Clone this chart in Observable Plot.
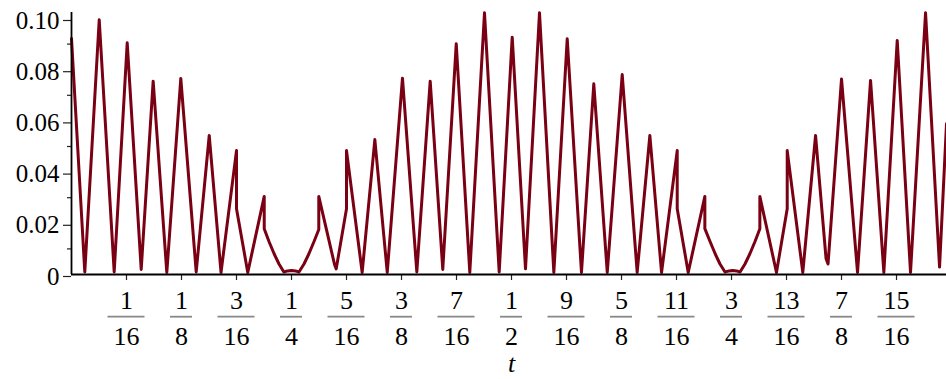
<!DOCTYPE html>
<html>
<head>
<meta charset="utf-8">
<script src="https://cdn.jsdelivr.net/npm/d3@7"></script>
<script src="https://cdn.jsdelivr.net/npm/@observablehq/plot@0.6"></script>
<style>
  html, body { margin: 0; padding: 0; background: #fff; }
  #chart { width: 946px; height: 379px; }
</style>
</head>
<body>
<div id="chart"></div>
<script>
// Curve vertices
const T = [0, 0.0151, 0.0315, 0.0485, 0.0633, 0.0792, 0.0928, 0.1083, 0.1242, 0.1417,
  0.1565, 0.1699, 0.1875, 0.1875, 0.2003, 0.2190, 0.2190, 0.2244, 0.2301, 0.2358,
  0.2413, 0.2455, 0.2500, 0.2545, 0.2585, 0.2642, 0.2699, 0.2756, 0.2810, 0.2810,
  0.2989, 0.3008, 0.3125, 0.3125, 0.3303, 0.3447, 0.3588, 0.3761, 0.3924, 0.4076,
  0.4219, 0.4372, 0.4526, 0.4693, 0.4860, 0.5008, 0.5159, 0.5318, 0.5481, 0.5633,
  0.5795, 0.5935, 0.6088, 0.6258, 0.6428, 0.6572, 0.6705, 0.6883, 0.6883, 0.7008,
  0.7197, 0.7197, 0.7256, 0.7313, 0.7369, 0.7426, 0.7472, 0.7515, 0.7557, 0.7597,
  0.7653, 0.7710, 0.7767, 0.7822, 0.7822, 0.8011, 0.8133, 0.8133, 0.8310, 0.8455,
  0.8574, 0.8597, 0.8750, 0.8932, 0.9080, 0.9231, 0.9383, 0.9534, 0.9705, 0.9864,
  0.9943];
const Y = [0.0922, 0.0010, 0.0995, 0.0010, 0.0905, 0.0020, 0.0755, 0.0008, 0.0766, 0.0010,
  0.0543, 0.0008, 0.0484, 0.0257, 0.0008, 0.0305, 0.0179, 0.0129, 0.0082, 0.0041,
  0.0010, 0.0014, 0.0016, 0.0014, 0.0010, 0.0041, 0.0082, 0.0129, 0.0176, 0.0305,
  0.0039, 0.0022, 0.0257, 0.0484, 0.0008, 0.0527, 0.0008, 0.0767, 0.0010, 0.0755,
  0.0020, 0.0901, 0.0008, 0.1022, 0.0010, 0.0927, 0.0022, 0.1022, 0.0008, 0.0921,
  0.0008, 0.0745, 0.0008, 0.0781, 0.0008, 0.0543, 0.0008, 0.0484, 0.0257, 0.0008,
  0.0305, 0.0179, 0.0129, 0.0082, 0.0041, 0.0010, 0.0014, 0.0016, 0.0014, 0.0010,
  0.0041, 0.0082, 0.0129, 0.0179, 0.0305, 0.0008, 0.0257, 0.0484, 0.0008, 0.0543,
  0.0063, 0.0041, 0.0764, 0.0008, 0.0758, 0.0008, 0.0914, 0.0008, 0.1022, 0.0029,
  0.0589];

// Axis ticks and labels
const tickNum = ["1", "1", "3", "1", "5", "3", "7", "1", "9", "5", "11", "3", "13", "7", "15"];
const tickDen = ["16", "8", "16", "4", "16", "8", "16", "2", "16", "8", "16", "4", "16", "8", "16"];
const xTicks = tickNum.map((n, i) => Number(n) / Number(tickDen[i]));
const yTicks = [0, 0.02, 0.04, 0.06, 0.08, 0.10];
const yLabels = ["0", "0.02", "0.04", "0.06", "0.08", "0.10"];
const yMinor = [0.01, 0.03, 0.05, 0.07, 0.09];
const xDomain = [0, 0.9943];
const yDomain = [0, 0.1];
const yAxisTop = 0.1023;
const xLabel = "t";

const curve = T.map((t, i) => ({t, y: Y[i]}));
const fracs = xTicks.map((v, i) => ({v, num: tickNum[i], den: tickDen[i]}));

const FONT = "Liberation Serif";
const plot = Plot.plot({
  width: 946,
  height: 379,
  marginLeft: 71,
  marginRight: 0,
  marginTop: 18,
  marginBottom: 105,
  x: {domain: xDomain},
  y: {domain: yDomain},
  style: {background: "#fff", color: "#000", overflow: "visible"},
  marks: [
    Plot.axisY(yTicks, {
      tickSize: 8, tickPadding: 4, stroke: "#222", strokeWidth: 1.2,
      fontSize: 25, fontFamily: FONT, fill: "#000", dy: 2,
      tickFormat: d => yLabels[yTicks.indexOf(d)], label: null
    }),
    Plot.axisY(yMinor, {tickSize: 4, stroke: "#222", strokeWidth: 1.2, tickFormat: () => "", label: null}),
    Plot.axisX(xTicks, {tickSize: 6, stroke: "#222", strokeWidth: 1.2, tickFormat: () => "", label: null}),
    Plot.text(fracs, {x: "v", text: "num", frameAnchor: "bottom", dy: 26, fontSize: 26, fontFamily: FONT, fill: "#000", lineAnchor: "middle"}),
    Plot.text(fracs, {x: "v", text: "den", frameAnchor: "bottom", dy: 62, fontSize: 26, fontFamily: FONT, fill: "#000", lineAnchor: "middle"}),
    Plot.text([0.5], {x: d => d, text: () => xLabel, frameAnchor: "bottom", dy: 89, fontSize: 26, fontFamily: FONT, fontStyle: "italic", fill: "#000", lineAnchor: "middle"}),
    Plot.line(curve, {x: "t", y: "y", stroke: "#7a0014", strokeWidth: 3, strokeLinejoin: "round"}),
    Plot.ruleY([0], {stroke: "#000", strokeWidth: 1.8}),
    Plot.ruleX([0], {y1: 0, y2: yAxisTop, stroke: "#000", strokeWidth: 1.8})
  ]
});

const svg = d3.select(plot);
svg.attr("font-family", FONT);
svg.selectAll("text").attr("font-family", FONT);

// Fraction bars, positioned through Plot's x scale
const sx = plot.scale("x");
const g = svg.append("g").attr("stroke", "#888").attr("stroke-width", 1.8);
fracs.forEach(f => {
  const cx = sx.apply(f.v);
  const w = Math.max(f.num.length, f.den.length) > 1 ? 18.5 : 11;
  g.append("line").attr("x1", cx - w).attr("x2", cx + w).attr("y1", 316.7).attr("y2", 316.7);
});

document.getElementById("chart").appendChild(plot);
</script>
</body>
</html>
